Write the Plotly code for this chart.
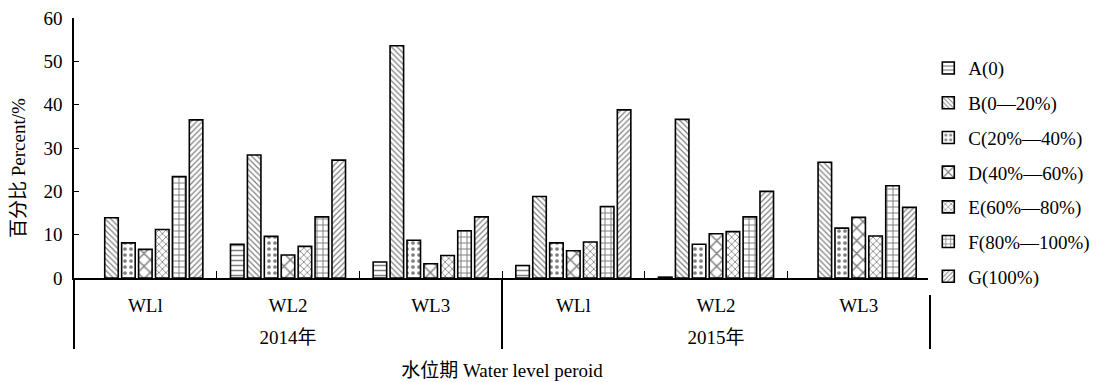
import plotly.graph_objects as go

years = ["2014年"] * 3 + ["2015年"] * 3
periods = ["WLl", "WL2", "WL3", "WLl", "WL2", "WL3"]

series_names = ["A(0)", "B(0—20%)", "C(20%—40%)", "D(40%—60%)",
                "E(60%—80%)", "F(80%—100%)", "G(100%)"]
A = [0.0, 7.8, 3.7, 2.9, 0.2, 0.0]
B = [13.9, 28.4, 53.6, 18.8, 36.6, 26.7]
C = [8.1, 9.6, 8.7, 8.1, 7.8, 11.5]
D = [6.6, 5.3, 3.3, 6.3, 10.2, 14.0]
E = [11.2, 7.3, 5.2, 8.3, 10.7, 9.7]
F = [23.4, 14.1, 10.9, 16.5, 14.1, 21.3]
G = [36.5, 27.2, 14.1, 38.8, 20.0, 16.3]
values = [A, B, C, D, E, F, G]

shapes = ["-", "\\", ".", "x", "x", "+", "/"]
sizes = [5, 4, 6, 9, 5, 6, 4]

FONT = "Liberation Serif, Noto Sans CJK SC"
FS = 19


def big(t):
    return '<span style="font-size:%dpx">%s</span>' % (FS, t)


# labels drawn at 19px on a smaller tick font: the year row starts on a second line
period_labels = [big(p) for p in periods]
year_labels = ["<br>" + big(y) for y in years]

fig = go.Figure()
for i, (name, vals) in enumerate(zip(series_names, values)):
    fig.add_trace(go.Bar(
        name=name, x=[year_labels, period_labels], y=[v if v > 0 else None for v in vals],
        legendgroup=name,
        marker=dict(color="white",
                    line=dict(color="black", width=1.6),
                    pattern=dict(shape=shapes[i], fgcolor="black", bgcolor="white",
                                 size=sizes[i], solidity=0.3, fillmode="overlay")),
    ))

fig.update_layout(
    width=1098, height=382,
    margin=dict(l=74, r=168, t=18, b=104, autoexpand=False),
    plot_bgcolor="white", paper_bgcolor="white",
    barmode="group", bargap=0.17, bargroupgap=0.2,
    font=dict(family=FONT, size=FS, color="black"),
    legend=dict(x=0.998, y=0.88, xanchor="left", yanchor="top",
                font=dict(family=FONT, size=FS),
                tracegroupgap=7, itemwidth=30),
    xaxis=dict(type="multicategory", showline=True, linecolor="black", linewidth=1.5,
               ticks="inside", ticklen=7, tickcolor="black", tickwidth=1.3,
               tickson="boundaries",
               showdividers=True, dividercolor="black", dividerwidth=1.5,
               tickfont=dict(family=FONT, size=16.5),
               ticklabelstandoff=12,
               title=dict(text="水位期 Water level peroid", font=dict(family=FONT, size=FS),
                          standoff=17),
               showgrid=False),
    yaxis=dict(range=[0, 60], dtick=10, showline=True, linecolor="black", linewidth=1.5,
               ticks="inside", ticklen=5, tickcolor="black", ticklabelstandoff=6,
               tickfont=dict(family=FONT, size=FS),
               showgrid=False, zeroline=False),
    annotations=[dict(text="百分比 Percent/%", textangle=-90, xref="paper", yref="paper",
                      x=-0.0654, y=0.423, xanchor="center", yanchor="middle",
                      showarrow=False, font=dict(family=FONT, size=FS))],
)

fig.write_html("out.html")
